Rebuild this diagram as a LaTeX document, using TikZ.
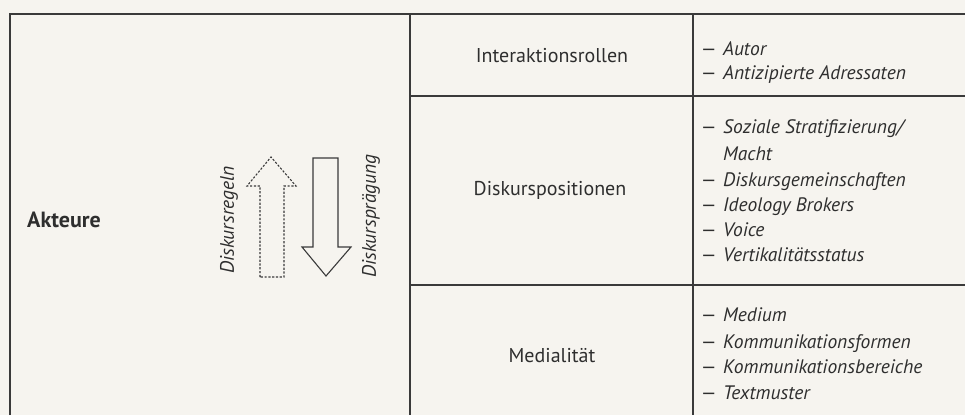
\documentclass[tikz,border=0pt]{standalone}
\usepackage{fontspec}
\setmainfont{PT Sans}
\begin{document}
\begin{tikzpicture}[x=1pt,y=-1pt,
  frame/.style={draw=linec,line width=1.3pt},
  midlabel/.style={anchor=base,font=\fontsize{20}{24}\selectfont,text=textc,inner sep=0pt},
  dashmark/.style={anchor=base west,font=\fontsize{19.5}{22}\selectfont,text=textc,inner sep=0pt},
  item/.style={anchor=base west,font=\fontsize{19.5}{22}\selectfont\itshape,text=textc,inner sep=0pt},
  rotlabel/.style={rotate=90,font=\fontsize{19.5}{22}\selectfont\itshape,text=textc,inner sep=0pt},
  arrowshape/.style={draw=linec,line width=1.1pt,line join=miter}
]
\definecolor{linec}{HTML}{3A3A3A}
\definecolor{textc}{HTML}{2E2E2E}
\definecolor{bgc}{HTML}{F6F4EF}
\fill[bgc] (0,0) rectangle (965,415);
\useasboundingbox (0,0) rectangle (965,415);
% frame
\draw[frame] (10,415) -- (10,14) -- (965,14);
\draw[frame] (410,14) -- (410,415);
\draw[frame] (693,14) -- (693,415);
\draw[frame] (410,96) -- (965,96);
\draw[frame] (410,285) -- (965,285);
% left
\node[anchor=base west,font=\fontsize{22}{26}\selectfont\bfseries,text=textc,inner sep=0pt] (akteure) at (27,227) {Akteure};
% arrows
\draw[arrowshape,dash pattern=on 2.2pt off 1.6pt]
  (260,277) -- (260,186) -- (247,186) -- (271,157) -- (296,186) -- (284,186) -- (284,277) -- cycle;
\draw[arrowshape]
  (313,158) -- (313,247) -- (302,247) -- (326,276) -- (351,247) -- (338,247) -- (338,158) -- cycle;
\node[rotlabel] (regeln) at (229,220) {Diskursregeln};
\node[rotlabel] (praegung) at (371,216) {Diskursprägung};
% middle labels
\node[midlabel] (ir) at (552,62) {Interaktionsrollen};
\node[midlabel] (dp) at (550,195) {Diskurspositionen};
\node[midlabel] (med) at (552,362) {Medialität};
% lists
\foreach \y/\t [count=\i] in {55/{Autor},79/{Antizipierte Adressaten},
  133/{Soziale Stratifizierung/},186/{Diskursgemeinschaften},211/{Ideology Brokers},236/{Voice},261/{Vertikalitätsstatus},
  321/{Medium},348/{Kommunikationsformen},373/{Kommunikationsbereiche},399/{Textmuster}}{
  \node[dashmark] (d\i) at (700,\y) {\scalebox{1.35}[1]{–}};
  \node[item] (t\i) at (723,\y) {\t};
}
\node[item] (macht) at (723,160) {Macht};
\end{tikzpicture}
\end{document}
